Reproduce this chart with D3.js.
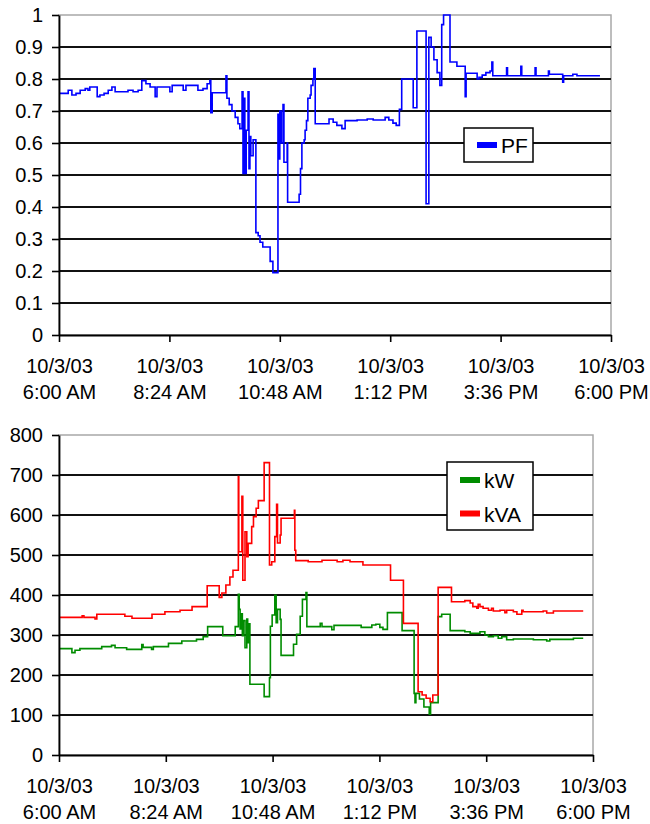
<!DOCTYPE html>
<html>
<head>
<meta charset="utf-8">
<script src="https://cdn.jsdelivr.net/npm/d3@7"></script>
<style>
body { margin: 0; background: #fff; }
svg text { font-family: "Liberation Sans", Arial, sans-serif; fill: #000; }
</style>
</head>
<body>
<svg id="chart" width="650" height="824"></svg>
<script>
// times are hours of the day on 10/3/03
var pfHours = [6.00, 6.20, 6.28, 6.37, 6.46, 6.57, 6.63, 6.67, 6.83, 6.89, 6.98, 7.07, 7.15, 7.22, 7.50, 7.61, 7.72, 7.80, 7.89, 7.98,
  8.09, 8.13, 8.41, 8.46, 8.70, 8.76, 9.02, 9.13, 9.22, 9.28, 9.30, 9.33, 9.63, 9.65, 9.70, 9.76, 9.83, 9.89, 9.93, 9.98,
  10.00, 10.02, 10.04, 10.07, 10.11, 10.13, 10.15, 10.17, 10.22, 10.28, 10.33, 10.37, 10.43, 10.59, 10.65, 10.76, 10.78, 10.80, 10.83, 10.87,
  10.89, 10.96, 10.97, 11.22, 11.25, 11.28, 11.33, 11.35, 11.38, 11.41, 11.46, 11.48, 11.52, 11.54, 11.57, 11.87, 11.96, 12.04, 12.15, 12.22,
  12.48, 12.70, 12.83, 13.09, 13.17, 13.26, 13.33, 13.40, 13.45, 13.70, 13.78, 13.98, 14.04, 14.09, 14.15, 14.22, 14.28, 14.32, 14.36, 14.50,
  14.65, 14.83, 14.85, 15.09, 15.13, 15.20, 15.28, 15.37, 15.41, 15.43, 15.73, 15.75, 16.04, 16.06, 16.35, 16.37, 16.64, 16.66, 16.95, 16.97,
  17.17, 17.26, 17.76];
var pfValues = [0.755, 0.765, 0.75, 0.755, 0.765, 0.77, 0.765, 0.775, 0.745, 0.75, 0.755, 0.765, 0.775, 0.76, 0.765, 0.76, 0.765, 0.795, 0.785, 0.775,
  0.745, 0.775, 0.76, 0.78, 0.765, 0.78, 0.765, 0.77, 0.785, 0.795, 0.695, 0.757, 0.81, 0.74, 0.72, 0.70, 0.68, 0.66, 0.645, 0.76,
  0.505, 0.74, 0.505, 0.64, 0.76, 0.52, 0.62, 0.56, 0.61, 0.32, 0.31, 0.29, 0.275, 0.23, 0.195, 0.69, 0.55, 0.70, 0.60, 0.72,
  0.54, 0.60, 0.415, 0.44, 0.52, 0.60, 0.61, 0.64, 0.67, 0.74, 0.75, 0.78, 0.80, 0.833, 0.66, 0.675, 0.665, 0.655, 0.645, 0.67,
  0.672, 0.675, 0.672, 0.68, 0.672, 0.662, 0.655, 0.705, 0.80, 0.71, 0.95, 0.41, 0.93, 0.90, 0.86, 0.82, 0.78, 0.97, 1.0, 0.853,
  0.84, 0.745, 0.818, 0.80, 0.805, 0.812, 0.82, 0.825, 0.853, 0.81, 0.835, 0.81, 0.84, 0.81, 0.835, 0.81, 0.825, 0.815, 0.79, 0.81,
  0.815, 0.81, 0.81];

var kwHours = [6.00, 6.29, 6.36, 6.47, 6.96, 7.18, 7.26, 7.52, 7.86, 7.89, 8.08, 8.12, 8.46, 8.76, 9.09, 9.24, 9.34, 9.68, 9.96, 10.03,
  10.05, 10.07, 10.09, 10.12, 10.14, 10.18, 10.22, 10.24, 10.27, 10.29, 10.61, 10.73, 10.75, 10.79, 10.85, 10.88, 10.91, 10.97, 10.99, 11.27,
  11.34, 11.42, 11.47, 11.55, 11.57, 11.87, 11.91, 12.13, 12.18, 12.79, 13.03, 13.12, 13.21, 13.28, 13.38, 13.71, 13.98, 14.00, 14.02, 14.10,
  14.20, 14.32, 14.35, 14.52, 14.60, 14.79, 15.12, 15.24, 15.46, 15.57, 15.65, 15.76, 15.87, 15.95, 16.06, 16.21, 16.66, 16.96, 17.03, 17.56,
  17.78];
var kwValues = [266, 256, 262, 266, 271, 274, 268, 264, 276, 269, 264, 271, 279, 285, 289, 296, 321, 298, 321, 402,
  364, 315, 353, 298, 336, 268, 340, 281, 328, 177, 146, 193, 322, 350, 399, 331, 364, 339, 249, 277,
  302, 347, 389, 406, 321, 329, 321, 313, 324, 319, 325, 327, 319, 314, 356, 311, 154, 131, 154, 140,
  120, 102, 131, 346, 352, 311, 308, 304, 308, 300, 296, 298, 292, 296, 288, 290, 288, 285, 289, 292,
  292];

var kvaHours = [6.00, 6.52, 6.56, 6.81, 6.85, 7.48, 7.64, 8.09, 8.38, 8.72, 8.99, 9.33, 9.60, 9.66, 9.75, 9.84, 9.91, 10.03, 10.04, 10.11,
  10.13, 10.18, 10.22, 10.25, 10.33, 10.37, 10.43, 10.48, 10.61, 10.73, 10.78, 10.85, 10.89, 10.91, 10.97, 10.99, 11.29, 11.30, 11.32, 11.60,
  11.91, 12.25, 12.38, 12.54, 12.83, 13.45, 13.74, 14.07, 14.16, 14.25, 14.34, 14.40, 14.52, 14.82, 15.12, 15.24, 15.30, 15.39, 15.42, 15.46,
  15.53, 15.65, 15.72, 15.76, 15.91, 16.02, 16.06, 16.21, 16.29, 16.40, 16.43, 16.88, 16.96, 17.11, 17.78];
var kvaValues = [344, 348, 344, 340, 352, 347, 342, 352, 358, 362, 371, 423, 394, 405, 425, 445, 462, 696, 508, 647,
  437, 558, 496, 529, 571, 596, 617, 636, 731, 475, 483, 546, 627, 530, 550, 592, 612, 512, 486, 483,
  487, 483, 487, 483, 475, 437, 329, 158, 150, 142, 133, 150, 419, 383, 386, 380, 371, 367, 377, 371,
  367, 362, 367, 360, 362, 356, 362, 358, 352, 362, 358, 360, 355, 360, 360];

var pfTicks = [0, 0.1, 0.2, 0.3, 0.4, 0.5, 0.6, 0.7, 0.8, 0.9, 1];
var powerTicks = [0, 100, 200, 300, 400, 500, 600, 700, 800];
var timeTickHours = [6, 8.4, 10.8, 13.2, 15.6, 18];

var svg = d3.select("#chart");
var day = new Date(2003, 9, 3).getTime();
function toDate(h) { return new Date(day + h * 3600000); }

function zip(hours, values) {
  return hours.map(function(h, i) { return {t: toDate(h), v: values[i]}; });
}

function panel(box, ticks, series, legend, id) {
  var x = d3.scaleTime().domain([toDate(6), toDate(18)]).range([box.left, box.right]);
  var y = d3.scaleLinear().domain([ticks[0], ticks[ticks.length - 1]]).range([box.bottom, box.top]);
  var g = svg.append("g");

  g.append("rect")
    .attr("x", box.left).attr("y", box.top)
    .attr("width", box.right - box.left).attr("height", box.bottom - box.top)
    .attr("fill", "none").attr("stroke", "#a8a8a8").attr("stroke-width", 1.5);

  g.selectAll("line.grid").data(ticks.slice(1, -1)).enter().append("line")
    .attr("class", "grid")
    .attr("x1", box.left).attr("x2", box.right)
    .attr("y1", function(d) { return y(d); }).attr("y2", function(d) { return y(d); })
    .attr("stroke", "#111").attr("stroke-width", 1.8);

  g.append("clipPath").attr("id", id)
    .append("rect").attr("x", box.left).attr("y", box.top - 1)
    .attr("width", box.right - box.left).attr("height", box.bottom - box.top + 1);

  var line = d3.line()
    .x(function(d) { return x(d.t); })
    .y(function(d) { return y(d.v); })
    .curve(d3.curveStepAfter);

  series.forEach(function(s) {
    g.append("path")
      .attr("d", line(s.data))
      .attr("clip-path", "url(#" + id + ")")
      .attr("fill", "none").attr("stroke", s.color).attr("stroke-width", 1.6)
      .attr("stroke-linejoin", "miter");
  });

  var yAxis = g.append("g")
    .attr("transform", "translate(" + box.left + ",0)")
    .call(d3.axisLeft(y).tickValues(ticks).tickSize(7).tickSizeOuter(0).tickPadding(9).tickFormat(d3.format("")));
  var xAxis = g.append("g")
    .attr("transform", "translate(0," + box.bottom + ")")
    .call(d3.axisBottom(x).tickValues(timeTickHours.map(toDate)).tickSize(7).tickSizeOuter(0).tickFormat(""));

  [yAxis, xAxis].forEach(function(a) {
    a.attr("font-family", null).attr("font-size", 20);
    a.select(".domain").attr("stroke", "#000").attr("stroke-width", 1.8);
    a.selectAll(".tick line").attr("stroke", "#000").attr("stroke-width", 1.6);
  });
  yAxis.selectAll(".tick text").attr("fill", "#000");

  xAxis.selectAll(".tick text").remove();
  xAxis.selectAll(".tick").each(function(d) {
    var t = d3.select(this);
    t.append("text").attr("y", 38).attr("text-anchor", "middle").attr("font-size", 20)
      .text(d3.timeFormat("%-m/%-d/%y")(d));
    t.append("text").attr("y", 63.5).attr("text-anchor", "middle").attr("font-size", 20)
      .text(d3.timeFormat("%-I:%M %p")(d));
  });

  // legend
  var lg = g.append("g");
  lg.append("rect")
    .attr("x", legend.x).attr("y", legend.y).attr("width", legend.w).attr("height", legend.h)
    .attr("fill", "#fff").attr("stroke", "#000").attr("stroke-width", 1.5);
  series.forEach(function(s, i) {
    var cy = legend.y + legend.first + i * 33.5;
    lg.append("rect").attr("x", legend.x + 13).attr("y", cy - 3).attr("width", 20).attr("height", 6).attr("fill", s.color);
    lg.append("text").attr("x", legend.x + 37).attr("y", cy + 8).attr("font-size", 21).text(s.name);
  });
}

panel({left: 59, right: 611, top: 15, bottom: 335}, pfTicks,
  [{name: "PF", color: "#0000ff", data: zip(pfHours, pfValues)}],
  {x: 464, y: 128, w: 69, h: 34, first: 17}, "clipTop");

panel({left: 59, right: 593, top: 435, bottom: 755}, powerTicks,
  [{name: "kW", color: "#008c00", data: zip(kwHours, kwValues)},
   {name: "kVA", color: "#ff0000", data: zip(kvaHours, kvaValues)}],
  {x: 447, y: 462, w: 86, h: 68, first: 18}, "clipBottom");
</script>
</body>
</html>
